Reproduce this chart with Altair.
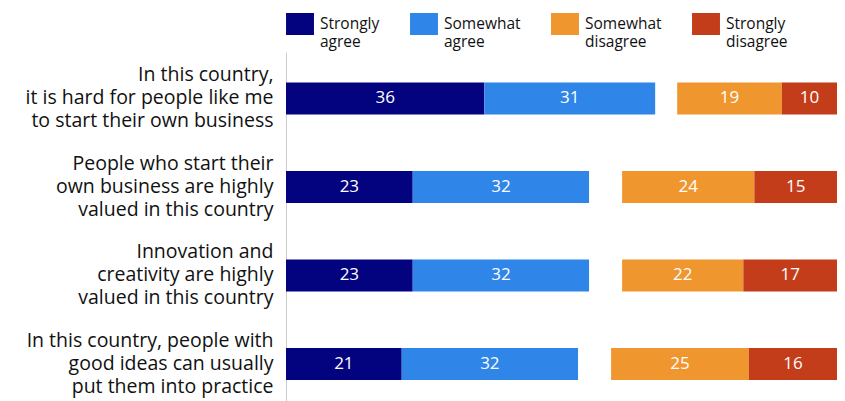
import altair as alt
import pandas as pd

categories = [
    "In this country,\nit is hard for people like me\nto start their own business",
    "People who start their\nown business are highly\nvalued in this country",
    "Innovation and\ncreativity are highly\nvalued in this country",
    "In this country, people with\ngood ideas can usually\nput them into practice",
]
strongly_agree = [36, 23, 23, 21]
somewhat_agree = [31, 32, 32, 32]
somewhat_disagree = [19, 24, 22, 25]
strongly_disagree = [10, 15, 17, 16]

series = ["Strongly agree", "Somewhat agree", "Somewhat disagree", "Strongly disagree"]
colors = ["#03037f", "#2f86e8", "#f0962e", "#c43d1b"]

rows = []
for i, cat in enumerate(categories):
    sa, wa, wd, sd = strongly_agree[i], somewhat_agree[i], somewhat_disagree[i], strongly_disagree[i]
    dstart = 100 - (wd + sd)
    segs = [
        (series[0], 0, sa, sa),
        (series[1], sa, sa + wa, wa),
        (series[2], dstart, dstart + wd, wd),
        (series[3], dstart + wd, 100, sd),
    ]
    for name, a, b, v in segs:
        rows.append({"cat": cat, "series": name, "x0": a, "x1": b, "mid": (a + b) / 2, "value": v})
df = pd.DataFrame(rows)

FONT = "Open Sans"

y_enc = alt.Y(
    "cat:N",
    sort=categories,
    scale=alt.Scale(paddingInner=0.638, paddingOuter=0.2907, align=0.592),
    axis=alt.Axis(
        title=None,
        ticks=False,
        domainColor="#cccccc",
        domainWidth=1,
        labelExpr="split(datum.label, '\\n')",
        labelFont=FONT,
        labelFontSize=19.5,
        labelLineHeight=23,
        labelColor="#111111",
        labelAlign="right",
        labelBaseline="middle",
        labelOffset=-23,
        labelPadding=13,
        labelLimit=400,
    ),
)
x_scale = alt.Scale(domain=[0, 100], nice=False, zero=False)

bars = alt.Chart(df).mark_bar(cornerRadius=0).encode(
    x=alt.X("x0:Q", scale=x_scale, axis=None),
    x2="x1:Q",
    y=y_enc,
    color=alt.Color(
        "series:N",
        scale=alt.Scale(domain=series, range=colors),
        sort=series,
        legend=alt.Legend(
            title=None,
            orient="none",
            legendX=3,
            legendY=-39,
            direction="horizontal",
            padding=0,
            columnPadding=30,
            symbolType="M-1.27,-1H1.27V1H-1.27Z",
            symbolSize=484,
            symbolStrokeWidth=0,
            symbolOpacity=1,
            labelExpr="split(datum.label, ' ')",
            labelFont=FONT,
            labelFontSize=15.5,
            labelColor="#111111",
            labelBaseline="middle",
            labelOffset=9,
            labelLimit=200,
        ),
    ),
)

labels = alt.Chart(df).mark_text(
    font=FONT, fontSize=17, color="white", align="center", baseline="middle"
).encode(
    x=alt.X("mid:Q", scale=x_scale),
    y=alt.Y("cat:N", sort=categories),
    text="value:Q",
)

chart = (
    alt.layer(bars, labels)
    .properties(
        width=551,
        height=349,
        autosize=alt.AutoSizeParams(type="none"),
        padding={"left": 278, "top": 44, "right": 0, "bottom": 0},
    )
    .configure_view(stroke=None)
)

chart.save("out.html", embed_options={"renderer": "svg", "actions": False})
